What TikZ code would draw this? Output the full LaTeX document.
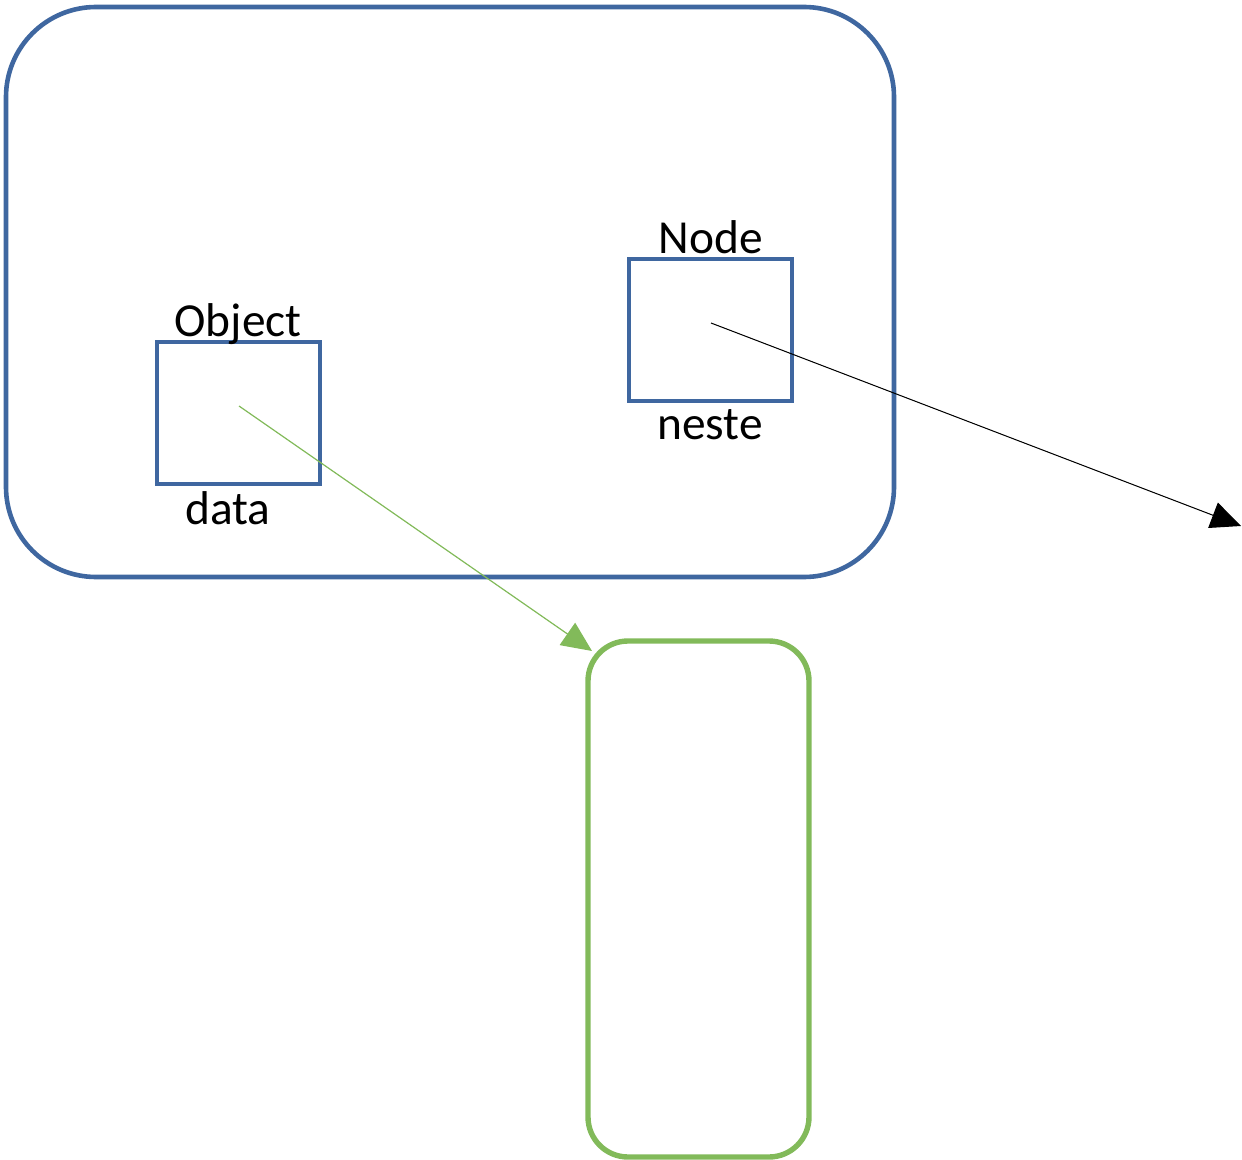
\documentclass[tikz,border=0pt]{standalone}
\usepackage{fontspec}
\setmainfont{Carlito}
\usetikzlibrary{arrows.meta}
\definecolor{boxblue}{RGB}{63,103,160}
\definecolor{boxgreen}{RGB}{130,186,90}
\begin{document}
\begin{tikzpicture}[x=0.5pt,y=-0.5pt,
  bluebox/.style={draw=boxblue,line width=2.3pt},
  greenbox/.style={draw=boxgreen,line width=2.7pt},
  lbl/.style={font=\fontsize{23.7pt}{28pt}\selectfont,anchor=base,inner sep=0pt},
  ptr/.style={line width=0.5pt,-{Triangle[length=15pt,width=13.5pt]}}]
\useasboundingbox (0,0) rectangle (1242,1160);
\draw[bluebox,rounded corners=45pt] (6,7) rectangle (894,577);
\draw[bluebox] (157,342) rectangle (320,484);
\draw[bluebox] (629,259) rectangle (792,401);
\draw[greenbox,rounded corners=20pt] (588,641) rectangle (809,1157);
\node[lbl] (objlbl) at (238,337) {Object};
\node[lbl] (datalbl) at (228,524) {data};
\node[lbl] (nodelbl) at (711,254) {Node};
\node[lbl] (nestelbl) at (710,440) {neste};
\coordinate (datastart) at (239,406);
\coordinate (datatip) at (592,651);
\coordinate (nestestart) at (711,323);
\coordinate (nestetip) at (1241,526);
\draw[ptr,draw=boxgreen,fill=boxgreen,line width=0.6pt] (datastart) -- (datatip);
\draw[ptr,draw=black,fill=black] (nestestart) -- (nestetip);
\end{tikzpicture}
\end{document}
